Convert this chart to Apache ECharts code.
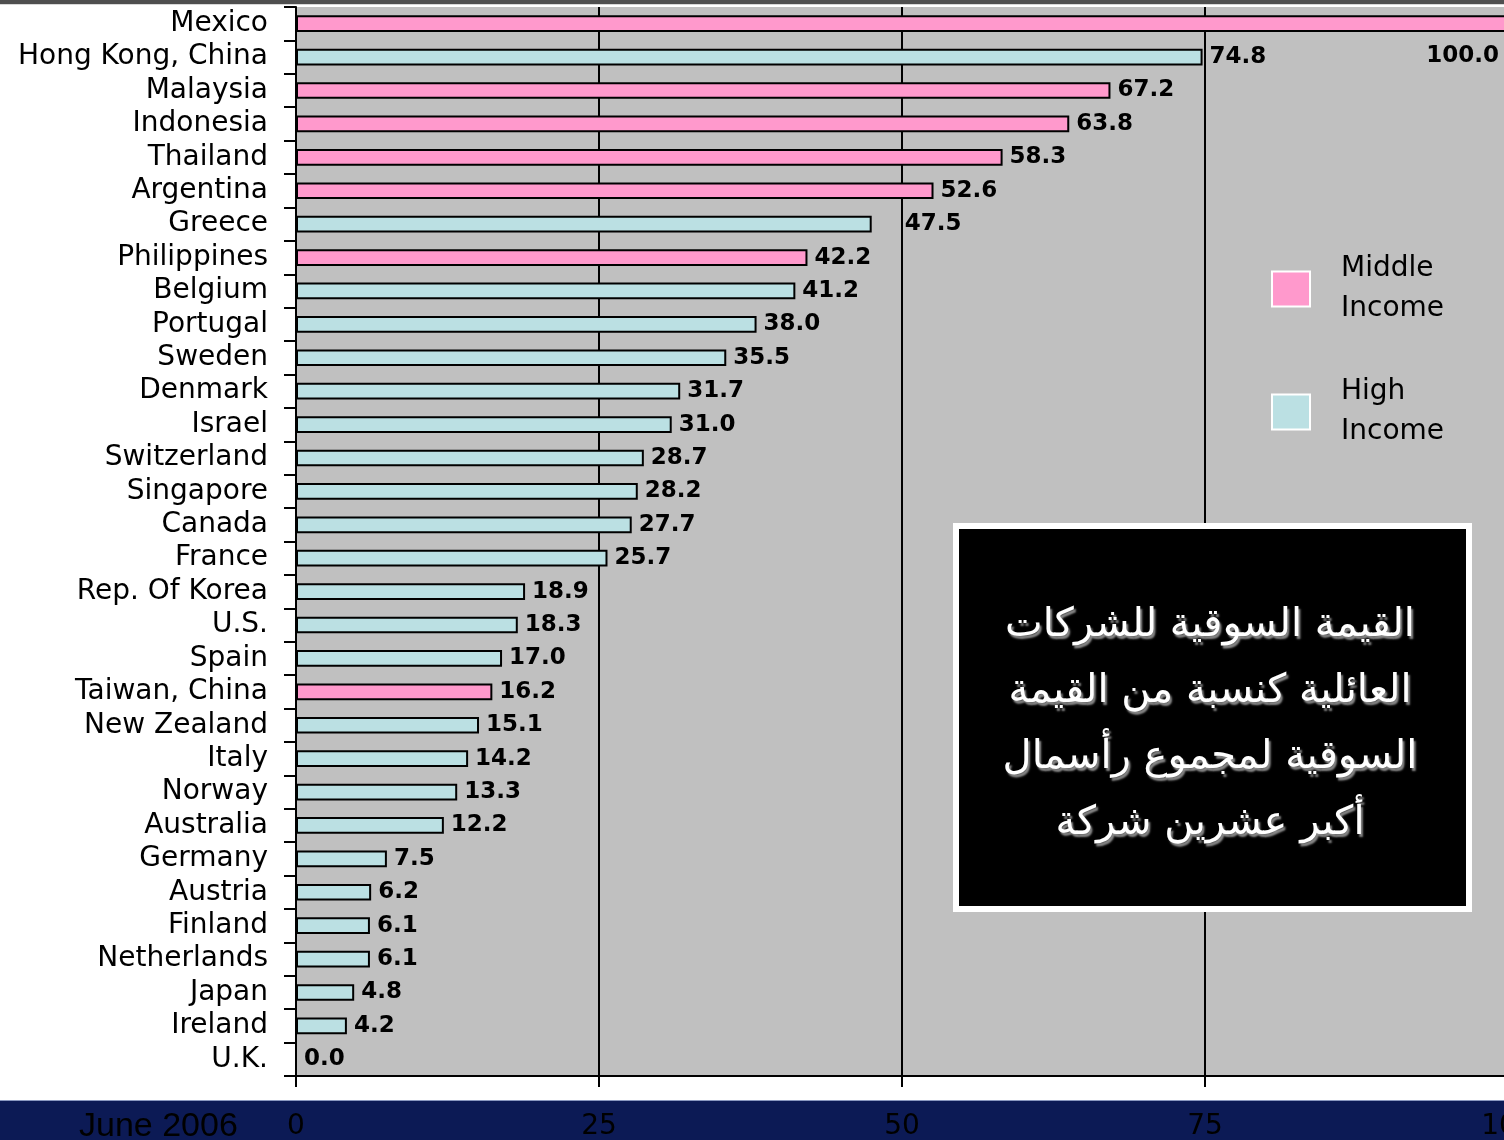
<!DOCTYPE html>
<html>
<head>
<meta charset="utf-8">
<script src="https://cdn.jsdelivr.net/npm/echarts@6/dist/echarts.min.js"></script>
<style>
  html, body { margin: 0; padding: 0; background: #ffffff; }
  #chart { width: 1504px; height: 1140px; }
</style>
</head>
<body>
<div id="chart"></div>
<script>
const countries = [
  'Mexico', 'Hong Kong, China', 'Malaysia', 'Indonesia', 'Thailand', 'Argentina',
  'Greece', 'Philippines', 'Belgium', 'Portugal', 'Sweden', 'Denmark', 'Israel',
  'Switzerland', 'Singapore', 'Canada', 'France', 'Rep. Of Korea', 'U.S.', 'Spain',
  'Taiwan, China', 'New Zealand', 'Italy', 'Norway', 'Australia', 'Germany',
  'Austria', 'Finland', 'Netherlands', 'Japan', 'Ireland', 'U.K.'
]
const shareValues = [
  100.0, 74.8, 67.2, 63.8, 58.3, 52.6,
  47.5, 42.2, 41.2, 38.0, 35.5, 31.7, 31.0,
  28.7, 28.2, 27.7, 25.7, 18.9, 18.3, 17.0,
  16.2, 15.1, 14.2, 13.3, 12.2, 7.5,
  6.2, 6.1, 6.1, 4.8, 4.2, 0.0
]
// M = middle income, H = high income
const incomeGroup = [
  'M', 'H', 'M', 'M', 'M', 'M',
  'H', 'M', 'H', 'H', 'H', 'H', 'H',
  'H', 'H', 'H', 'H', 'H', 'H', 'H',
  'M', 'H', 'H', 'H', 'H', 'H',
  'H', 'H', 'H', 'H', 'H', 'H'
]
const xTicks = [0, 25, 50, 75, 100]
const arabicTitle = [
  'القيمة السوقية للشركات',
  'العائلية كنسبة من القيمة',
  'السوقية لمجموع رأسمال',
  'أكبر عشرين شركة'
]

const FONT = 'DejaVu Sans'

// label tweaks seen on the original slide
const labelOverrides = {
  'Mexico': { position: 'insideRight', offset: [-2, 32] },
  'Greece': { offset: [26, 0] }
}

const buildData = (group) => shareValues.map((v, i) => {
  if (incomeGroup[i] !== group) return null
  const item = { value: v }
  if (labelOverrides[countries[i]]) item.label = labelOverrides[countries[i]]
  return item
})

const barLabel = {
  show: true,
  position: 'right',
  distance: 7,
  color: '#000',
  fontFamily: FONT,
  fontWeight: 'bold',
  fontSize: 23,
  formatter: (p) => Number(p.value).toFixed(1)
}

const chart = echarts.init(document.getElementById('chart'), null, { renderer: 'canvas' })

const option = {
  animation: false,
  backgroundColor: '#ffffff',
  grid: {
    show: true,
    left: 296,
    top: 7,
    width: 1212,
    height: 1069,
    backgroundColor: '#c0c0c0',
    borderWidth: 0,
    containLabel: false,
    outerBoundsMode: 'none'
  },
  legend: {
    orient: 'vertical',
    left: 1271,
    top: 249,
    padding: 0,
    itemWidth: 38,
    itemHeight: 35,
    itemGap: 43,
    icon: 'rect',
    data: ['Middle Income', 'High Income'],
    formatter: (name) => name.replace(' ', '\n'),
    itemStyle: { borderColor: '#ffffff', borderWidth: 2 },
    textStyle: {
      color: '#000',
      fontFamily: FONT,
      fontSize: 28,
      lineHeight: 40,
      padding: [0, 0, 0, 26]
    }
  },
  xAxis: {
    type: 'value',
    min: 0,
    max: 100,
    interval: 25,
    axisLine: { show: true, lineStyle: { color: '#000', width: 2 } },
    axisTick: { show: true, length: 11, lineStyle: { color: '#000', width: 2 } },
    splitLine: { show: true, lineStyle: { color: '#000', width: 2 } },
    axisLabel: {
      color: '#000',
      fontFamily: FONT,
      fontSize: 28,
      margin: 37,
      showMaxLabel: true,
      formatter: (v) => xTicks.includes(v) ? String(v) : ''
    }
  },
  yAxis: {
    type: 'category',
    inverse: true,
    data: countries,
    axisLine: { show: true, lineStyle: { color: '#000', width: 2 } },
    axisTick: { show: true, length: 12, alignWithLabel: false, lineStyle: { color: '#000', width: 2 } },
    splitLine: { show: false },
    axisLabel: {
      color: '#000',
      fontFamily: FONT,
      fontSize: 28,
      margin: 28,
      interval: 0,
      padding: [3, 0, 0, 0]
    }
  },
  series: [
    {
      name: 'Middle Income',
      type: 'bar',
      stack: 'share',
      barWidth: '50%',
      data: buildData('M'),
      itemStyle: { color: '#ff99cc', borderColor: '#000', borderWidth: 2 },
      label: barLabel
    },
    {
      name: 'High Income',
      type: 'bar',
      stack: 'share',
      barWidth: '50%',
      data: buildData('H'),
      itemStyle: { color: '#bbe0e3', borderColor: '#000', borderWidth: 2 },
      label: barLabel
    }
  ],
  graphic: [
    // slide frame: dark strip at the top
    { type: 'rect', z: 100, shape: { x: 0, y: 0, width: 1504, height: 4 }, style: { fill: '#4f4f4f' } },
    { type: 'rect', z: 100, shape: { x: 0, y: 4, width: 1504, height: 1 }, style: { fill: '#d8d8d8' } },
    // navy footer band
    { type: 'rect', z: -10, shape: { x: 0, y: 1101, width: 1504, height: 39 }, style: { fill: '#0c1a55' } },
    { type: 'rect', z: -10, shape: { x: 0, y: 1100, width: 1504, height: 1 }, style: { fill: '#8a98c0' } },
    {
      type: 'text', z: -5, left: 79, top: 1110,
      style: { text: 'June 2006', fill: '#000', font: '34px "Liberation Sans"' }
    },
    // title box
    {
      type: 'rect', z: 100,
      shape: { x: 956, y: 526, width: 513, height: 383 },
      style: { fill: '#000', stroke: '#ffffff', lineWidth: 6 }
    },
    {
      type: 'text', z: 101,
      x: 1210, y: 725,
      style: {
        text: arabicTitle.join('\n'),
        fill: '#ffffff',
        font: '40px "' + FONT + '"',
        lineHeight: 66,
        align: 'center',
        verticalAlign: 'middle',
        textShadowColor: '#8a8a8a',
        textShadowOffsetX: 2,
        textShadowOffsetY: 3,
        textShadowBlur: 2
      }
    }
  ]
}

chart.setOption(option)
window.addEventListener('resize', () => chart.resize())
</script>
</body>
</html>
